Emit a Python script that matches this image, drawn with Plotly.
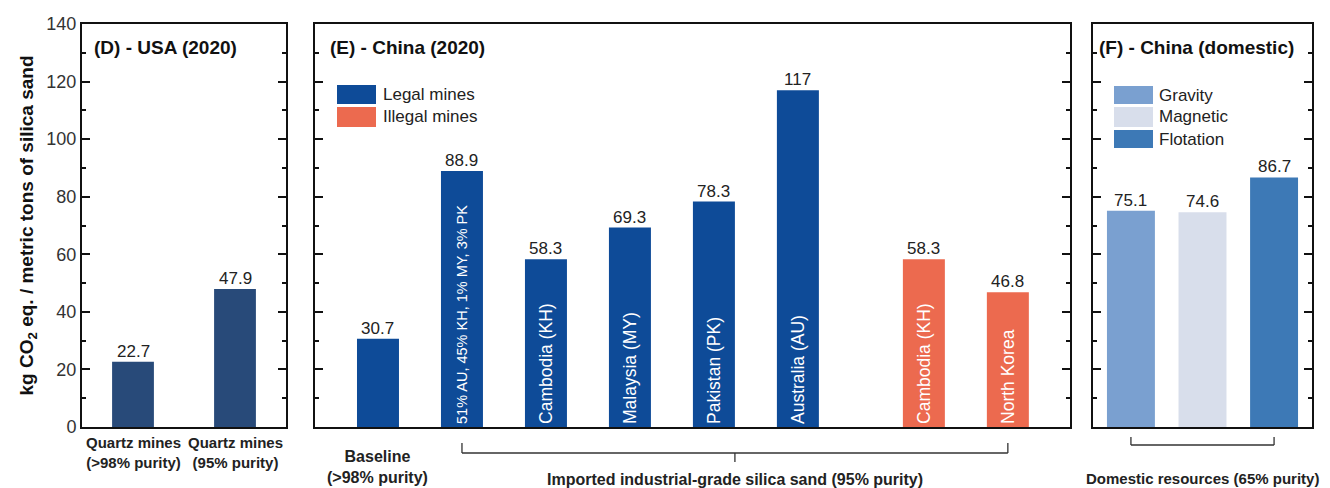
import plotly.graph_objects as go

# ---------------- data ----------------
usa_labels = ["Quartz mines<br>(>98% purity)", "Quartz mines<br>(95% purity)"]
usa_values = [22.7, 47.9]

baseline_label = "Baseline<br>(>98% purity)"
baseline_value = 30.7
legal_labels = ["51% AU, 45% KH, 1% MY, 3% PK", "Cambodia (KH)", "Malaysia (MY)",
                "Pakistan (PK)", "Australia (AU)"]
legal_values = [88.9, 58.3, 69.3, 78.3, 117]
illegal_labels = ["Cambodia (KH)", "North Korea"]
illegal_values = [58.3, 46.8]

domestic_labels = ["Gravity", "Magnetic", "Flotation"]
domestic_values = [75.1, 74.6, 86.7]

y_ticks = [0, 20, 40, 60, 80, 100, 120, 140]

# ---------------- style ----------------
FONT = "Arial, Liberation Sans, sans-serif"
C_USA = "#284a79"
C_LEGAL = "#0e4b98"
C_ILLEGAL = "#ec6a4f"
C_DOM = ["#7aa0d0", "#d8deeb", "#3d79b6"]
OFF = 8                      # page body margin
W, H = 1330 - OFF, 488 - OFF


def px(x):
    return (x - OFF) / W


def py(y):
    return 1 - (y - OFF) / H


fig = go.Figure()

# Panel D
usa_x = list(range(len(usa_values)))
fig.add_trace(go.Bar(x=usa_x, y=usa_values, width=0.41, marker=dict(color=C_USA, line=dict(width=0)),
                     xaxis="x", yaxis="y", showlegend=False, name="USA"))

# Panel E
base_x = 0
legal_x = [1 + i for i in range(len(legal_values))]
illegal_x = [legal_x[-1] + 1.5 + i for i in range(len(illegal_values))]
legal_sizes = [17.5 if len(t) < 20 else 14.5 for t in legal_labels]
fig.add_trace(go.Bar(x=[base_x], y=[baseline_value], width=0.5, marker=dict(color=C_LEGAL, line=dict(width=0)),
                     xaxis="x2", yaxis="y2", showlegend=False, name="Baseline"))
fig.add_trace(go.Bar(x=legal_x, y=legal_values, width=0.5, marker=dict(color=C_LEGAL, line=dict(width=0)),
                     text=legal_labels, textposition="inside", insidetextanchor="start", textangle=-90,
                     textfont=dict(color="white", size=legal_sizes, family=FONT), constraintext="none",
                     xaxis="x2", yaxis="y2", showlegend=False, name="Legal mines"))
fig.add_trace(go.Bar(x=illegal_x, y=illegal_values, width=0.5, marker=dict(color=C_ILLEGAL, line=dict(width=0)),
                     text=illegal_labels, textposition="inside", insidetextanchor="start", textangle=-90,
                     textfont=dict(color="white", size=17.5, family=FONT), constraintext="none",
                     xaxis="x2", yaxis="y2", showlegend=False, name="Illegal mines"))

# Panel F
dom_x = list(range(len(domestic_values)))
fig.add_trace(go.Bar(x=dom_x, y=domestic_values, width=0.67, marker=dict(color=C_DOM, line=dict(width=0)),
                     xaxis="x3", yaxis="y3", showlegend=False, name="Domestic"))

ann = []


def val_labels(xs, vals, xr, yr):
    for x, v in zip(xs, vals):
        ann.append(dict(x=x, y=v, xref=xr, yref=yr, text=f"{v:g}", showarrow=False,
                        yanchor="bottom", yshift=-1, font=dict(size=17, color="#222", family=FONT)))


val_labels(usa_x, usa_values, "x", "y")
val_labels([base_x], [baseline_value], "x2", "y2")
val_labels(legal_x, legal_values, "x2", "y2")
val_labels(illegal_x, illegal_values, "x2", "y2")
val_labels(dom_x, domestic_values, "x3", "y3")

# Panel titles
for text, x in [("(D) - USA (2020)", 92), ("(E) - China (2020)", 328), ("(F) - China (domestic)", 1097)]:
    ann.append(dict(x=px(x), y=py(47), xref="paper", yref="paper", text=text, showarrow=False,
                    xanchor="left", yanchor="middle",
                    font=dict(size=19, color="#111", family=FONT, weight="bold")))

# Bottom category labels
for x, t in zip(usa_x, usa_labels):
    ann.append(dict(x=x, y=py(452), xref="x", yref="paper", text=t, showarrow=False,
                    yanchor="middle", font=dict(size=15, color="#222", family=FONT, weight="bold")))
ann.append(dict(x=base_x, y=py(467), xref="x2", yref="paper", text=baseline_label,
                showarrow=False, yanchor="middle", font=dict(size=16, color="#222", family=FONT, weight="bold")))
mid_e = (legal_x[0] + illegal_x[-1]) / 2
ann.append(dict(x=mid_e, y=py(479), xref="x2", yref="paper",
                text="Imported industrial-grade silica sand (95% purity)", showarrow=False,
                yanchor="middle", font=dict(size=16, color="#222", family=FONT, weight="bold")))
ann.append(dict(x=dom_x[1], y=py(478), xref="x3", yref="paper", text="Domestic resources (65% purity)",
                showarrow=False, yanchor="middle", font=dict(size=15, color="#222", family=FONT, weight="bold")))

# Manual legends (large swatches)
shapes = []
legend_e = [("Legal mines", C_LEGAL, 85, 104), ("Illegal mines", C_ILLEGAL, 107, 127)]
for name, col, y0, y1 in legend_e:
    shapes.append(dict(type="rect", xref="paper", yref="paper", x0=px(337), x1=px(376), y0=py(y1), y1=py(y0),
                       fillcolor=col, line=dict(width=0)))
    ann.append(dict(x=px(381), y=py((y0 + y1) / 2), xref="paper", yref="paper", text=name, showarrow=False,
                    xanchor="left", yanchor="middle", font=dict(size=17, color="#222", family=FONT)))
legend_f = [(domestic_labels[0], C_DOM[0], 86, 104), (domestic_labels[1], C_DOM[1], 107, 127),
            (domestic_labels[2], C_DOM[2], 130, 148)]
for name, col, y0, y1 in legend_f:
    shapes.append(dict(type="rect", xref="paper", yref="paper", x0=px(1114), x1=px(1153), y0=py(y1), y1=py(y0),
                       fillcolor=col, line=dict(width=0)))
    ann.append(dict(x=px(1157), y=py((y0 + y1) / 2), xref="paper", yref="paper", text=name, showarrow=False,
                    xanchor="left", yanchor="middle", font=dict(size=17, color="#222", family=FONT)))

# Brackets
bl = dict(color="#333", width=1.3)
xe0, xe1 = legal_x[0], illegal_x[-1]
shapes += [
    dict(type="line", xref="x2", yref="paper", x0=xe0, x1=xe0, y0=py(443), y1=py(453), line=bl),
    dict(type="line", xref="x2", yref="paper", x0=xe1, x1=xe1, y0=py(443), y1=py(453), line=bl),
    dict(type="line", xref="x2", yref="paper", x0=xe0, x1=xe1, y0=py(453), y1=py(453), line=bl),
    dict(type="line", xref="x2", yref="paper", x0=mid_e, x1=mid_e, y0=py(453), y1=py(462), line=bl),
]
xf0, xf1 = dom_x[0], dom_x[-1]
shapes += [
    dict(type="line", xref="x3", yref="paper", x0=xf0, x1=xf0, y0=py(437), y1=py(445), line=bl),
    dict(type="line", xref="x3", yref="paper", x0=xf1, x1=xf1, y0=py(437), y1=py(445), line=bl),
    dict(type="line", xref="x3", yref="paper", x0=xf0, x1=xf1, y0=py(445), y1=py(445), line=bl),
]

ydom = [py(427), py(24)]
common_y = dict(range=[0, 140], tickvals=y_ticks, ticks="inside", ticklen=8, tickwidth=1.5, tickcolor="#111",
                showline=True, linecolor="#111", linewidth=2, mirror="ticks", showgrid=False, zeroline=False,
                minor=dict(dtick=10, ticks="inside", ticklen=4, tickwidth=1.5, tickcolor="#111"),
                domain=ydom, automargin=False)
common_x = dict(showline=True, linecolor="#111", linewidth=2, mirror=True, showgrid=False, zeroline=False,
                showticklabels=False, ticks="", automargin=False)

fig.update_layout(
    width=W, height=H, margin=dict(l=0, r=0, t=0, b=0),
    plot_bgcolor="white", paper_bgcolor="white",
    font=dict(family=FONT, color="#222"),
    xaxis=dict(common_x, domain=[px(82), px(286)], range=[-0.5, 1.5], anchor="y"),
    xaxis2=dict(common_x, domain=[px(315), px(1070)], range=[-0.75, 8.24], anchor="y2"),
    xaxis3=dict(common_x, domain=[px(1093), px(1312)], range=[-0.53, 2.53], anchor="y3"),
    yaxis=dict(common_y, anchor="x", showticklabels=True, tickfont=dict(size=18, color="#333", family=FONT),
               title=dict(text="kg CO<sub>2</sub> eq. / metric tons of silica sand", standoff=8,
                          font=dict(size=19, color="#111", family=FONT, weight="bold"))),
    yaxis2=dict(common_y, anchor="x2", showticklabels=False),
    yaxis3=dict(common_y, anchor="x3", showticklabels=False),
    annotations=ann, shapes=shapes, bargap=0.3,
)

fig.write_html("out.html")
